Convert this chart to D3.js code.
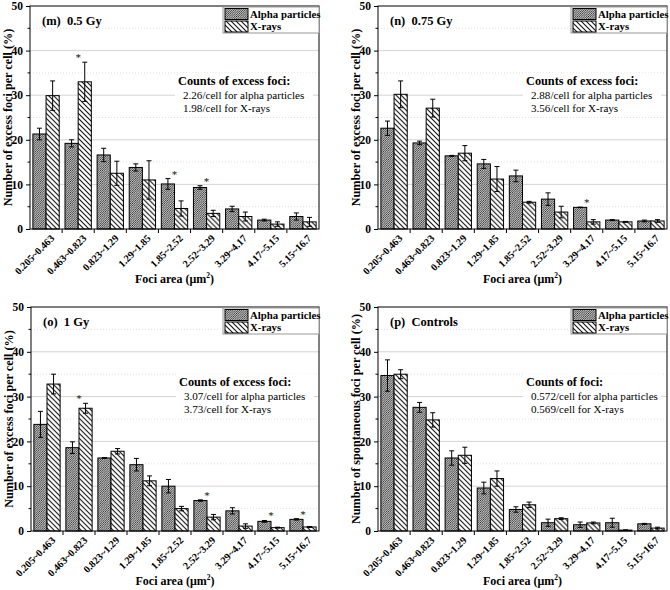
<!DOCTYPE html>
<html><head><meta charset="utf-8">
<script src="https://cdn.jsdelivr.net/npm/d3@7"></script>
<style>body{margin:0;background:#fff} svg{display:block} .star{font-family:'DejaVu Serif',serif;fill:#000;}</style>
</head><body><svg id="c" width="670" height="590"></svg>
<script>
const categories = ["0.205~0.463","0.463~0.823","0.823~1.29","1.29~1.85","1.85~2.52","2.52~3.29","3.29~4.17","4.17~5.15","5.15~16.7"];
const yTicks = [0,10,20,30,40,50];
const yMinorTicks = [5,15,25,35,45];
const seriesNames = ["Alpha particles","X-rays"];
const panelTitles = ["(m)  0.5 Gy","(n)  0.75 Gy","(o)  1 Gy","(p)  Controls"];
const yAxisTitles = ["Number of excess foci per cell (%)","Number of excess foci per cell (%)","Number of excess foci per cell (%)","Number of spontaneous foci per cell (%)"];
const xAxisTitle = "Foci area (μm";
const noteHeads = ["Counts of excess foci:","Counts of excess foci:","Counts of excess foci:","Counts of foci:"];
const noteAlpha = ["2.26/cell for alpha particles","2.88/cell for alpha particles","3.07/cell for alpha particles","0.572/cell for alpha particles"];
const noteXray = ["1.98/cell for X-rays","3.56/cell for X-rays","3.73/cell for X-rays","0.569/cell for X-rays"];

const alphaM = [21.3,19.2,16.6,13.8,10.1,9.3,4.5,2.0,2.8];
const alphaErrM = [1.3,0.8,1.5,0.8,1.2,0.4,0.6,0.2,0.8];
const xrayM = [29.9,33.0,12.5,11.0,4.6,3.5,2.8,1.1,1.6];
const xrayErrM = [3.3,4.4,2.7,4.3,1.7,0.7,1.0,0.5,1.0];
const starsM = ["0.463~0.823","1.85~2.52","2.52~3.29"];

const alphaN = [22.6,19.3,16.4,14.6,11.9,6.7,4.85,2.0,1.8];
const alphaErrN = [1.6,0.4,0.1,1.0,1.3,1.4,0.05,0.1,0.2];
const xrayN = [30.2,27.1,17.0,11.2,6.0,3.8,1.6,1.6,1.8];
const xrayErrN = [3.0,2.0,1.7,2.8,0.2,1.3,0.5,0.1,0.3];
const starsN = ["3.29~4.17"];

const alphaO = [23.8,18.6,16.3,14.8,10.0,6.8,4.5,2.15,2.6];
const alphaErrO = [2.9,1.3,0.1,1.4,1.5,0.15,0.7,0.2,0.15];
const xrayO = [32.8,27.4,17.8,11.2,5.0,3.1,1.1,0.75,0.9];
const xrayErrO = [2.2,1.1,0.6,1.1,0.5,0.6,0.5,0.1,0.1];
const starsO = ["0.463~0.823","2.52~3.29","4.17~5.15","5.15~16.7"];

const alphaP = [34.7,27.6,16.3,9.6,4.8,1.85,1.4,1.85,1.6];
const alphaErrP = [3.5,1.1,1.6,1.3,0.6,0.8,0.6,1.0,0.1];
const xrayP = [35.0,24.8,16.9,11.7,5.85,2.75,1.8,0.2,0.65];
const xrayErrP = [1.0,1.6,1.8,1.7,0.6,0.2,0.2,0.05,0.2];
const starsP = [];

const panels = [
  {alpha:alphaM, aErr:alphaErrM, xray:xrayM, xErr:xrayErrM, stars:starsM},
  {alpha:alphaN, aErr:alphaErrN, xray:xrayN, xErr:xrayErrN, stars:starsN},
  {alpha:alphaO, aErr:alphaErrO, xray:xrayO, xErr:xrayErrO, stars:starsO},
  {alpha:alphaP, aErr:alphaErrP, xray:xrayP, xErr:xrayErrP, stars:starsP}
];
// plot rectangles (layout)
const rects = [
  {x0:30, x1:319, y0:6, y1:229},
  {x0:378, x1:667, y0:6, y1:229},
  {x0:31, x1:319, y0:307, y1:531},
  {x0:378, x1:667, y0:307, y1:531}
];

const FONT = "'Liberation Serif','Times New Roman',serif";
const svg = d3.select("#c").style("font-family", FONT);
const defs = svg.append("defs");
const pa = defs.append("pattern").attr("id","hatchA").attr("patternUnits","userSpaceOnUse").attr("width",2.2).attr("height",2.2);
pa.append("rect").attr("width",2.2).attr("height",2.2).attr("fill","#fff");
pa.append("path").attr("d","M0,2.2L2.2,0M-1,1L1,-1M1.2,3.2L3.2,1.2").attr("stroke","#111").attr("stroke-width",0.75);
const px = defs.append("pattern").attr("id","hatchX").attr("patternUnits","userSpaceOnUse").attr("width",5).attr("height",5);
px.append("rect").attr("width",5).attr("height",5).attr("fill","#fff");
px.append("path").attr("d","M0,0L5,5M-1,4L1,6M4,-1L6,1").attr("stroke","#111").attr("stroke-width",1.1);
const fills = ["url(#hatchA)","url(#hatchX)"];

panels.forEach((p, i) => {
  const r = rects[i];
  const g = svg.append("g");
  const x = d3.scaleBand().domain(categories).range([r.x0, r.x1]).paddingInner(0.18).paddingOuter(0.09);
  const xs = d3.scaleBand().domain(seriesNames).range([0, x.bandwidth()]).padding(0);
  const y = d3.scaleLinear().domain([0,50]).range([r.y1, r.y0]);

  // grid
  g.selectAll(".gmin").data(yMinorTicks).join("line")
    .attr("x1", r.x0).attr("x2", r.x1).attr("y1", d=>y(d)).attr("y2", d=>y(d))
    .attr("stroke","#d8d8d8").attr("stroke-width",0.8).attr("stroke-dasharray","1,2");
  g.selectAll(".gmaj").data(yTicks.filter(d=>d>0 && d<50)).join("line")
    .attr("x1", r.x0).attr("x2", r.x1).attr("y1", d=>y(d)).attr("y2", d=>y(d))
    .attr("stroke","#cfcfcf").attr("stroke-width",0.9);

  // annotation with white background
  const ax = r.x0 + 148;
  const noteY = r.y0 + 79;
  g.append("rect").attr("x", ax-3).attr("y", noteY-12).attr("width", 138).attr("height", 44).attr("fill","#fff");
  g.append("text").attr("x", ax).attr("y", noteY).attr("font-size",12.3).attr("font-weight","bold").text(noteHeads[i]);
  g.append("text").attr("x", ax+5).attr("y", noteY+13.5).attr("font-size",11.1).text(noteAlpha[i]);
  g.append("text").attr("x", ax+5).attr("y", noteY+27).attr("font-size",11.1).text(noteXray[i]);

  // bars
  const rows = categories.map((c, k) => ({c, vals:[
    {s:seriesNames[0], v:p.alpha[k], e:p.aErr[k], fill:fills[0]},
    {s:seriesNames[1], v:p.xray[k], e:p.xErr[k], fill:fills[1]}]}));
  const grp = g.selectAll(".grp").data(rows).join("g").attr("transform", d=>`translate(${x(d.c)},0)`);
  grp.selectAll("rect").data(d=>d.vals).join("rect")
    .attr("x", d=>xs(d.s)).attr("width", xs.bandwidth())
    .attr("y", d=>y(d.v)).attr("height", d=>y(0)-y(d.v))
    .attr("fill", d=>d.fill).attr("stroke","#000").attr("stroke-width",1);
  // error bars
  const eb = grp.selectAll(".eb").data(d=>d.vals).join("g");
  eb.append("line").attr("x1", d=>xs(d.s)+xs.bandwidth()/2).attr("x2", d=>xs(d.s)+xs.bandwidth()/2)
    .attr("y1", d=>y(d.v-d.e)).attr("y2", d=>y(d.v+d.e)).attr("stroke","#000").attr("stroke-width",1);
  eb.append("line").attr("x1", d=>xs(d.s)+xs.bandwidth()/2-2.5).attr("x2", d=>xs(d.s)+xs.bandwidth()/2+2.5)
    .attr("y1", d=>y(d.v+d.e)).attr("y2", d=>y(d.v+d.e)).attr("stroke","#000").attr("stroke-width",1);
  eb.append("line").attr("x1", d=>xs(d.s)+xs.bandwidth()/2-2.5).attr("x2", d=>xs(d.s)+xs.bandwidth()/2+2.5)
    .attr("y1", d=>y(d.v-d.e)).attr("y2", d=>y(d.v-d.e)).attr("stroke","#000").attr("stroke-width",1);
  // stars
  grp.filter(d=>p.stars.includes(d.c)).append("text").attr("class","star")
    .attr("x", x.bandwidth()/2).attr("y", d=>y(d3.max(d.vals, v=>v.v+v.e)) - 1)
    .attr("text-anchor","middle").attr("font-size",10).text("*");

  // frame
  g.append("rect").attr("x", r.x0).attr("y", r.y0).attr("width", r.x1-r.x0).attr("height", r.y1-r.y0)
    .attr("fill","none").attr("stroke","#000").attr("stroke-width",1);

  // y axis
  const yAxis = d3.axisLeft(y).tickValues(yTicks).tickSize(4).tickPadding(3).tickFormat(d3.format("d"));
  const ya = g.append("g").attr("transform",`translate(${r.x0},0)`).call(yAxis);
  ya.select(".domain").remove();
  ya.selectAll("text").attr("font-size",11.5).attr("font-weight","bold").attr("font-family",FONT).attr("fill","#000");
  g.selectAll(".ymin").data(yMinorTicks).join("line")
    .attr("x1", r.x0-2.5).attr("x2", r.x0).attr("y1", d=>y(d)).attr("y2", d=>y(d)).attr("stroke","#000");

  // x axis boundary ticks
  const bounds = categories.slice(1).map(c => x(c) - x.step()*x.paddingInner()/2);
  g.selectAll(".xt").data(bounds).join("line")
    .attr("x1", d=>d).attr("x2", d=>d).attr("y1", r.y1).attr("y2", r.y1+4).attr("stroke","#000");
  // x tick labels
  g.selectAll(".xl").data(categories).join("text")
    .attr("transform", d=>`translate(${x(d)+x.bandwidth()/2+9},${r.y1+10}) rotate(-45)`)
    .attr("text-anchor","end").attr("font-size",10.2).attr("font-weight","bold").text(d=>d);

  // x title
  const xt = g.append("text").attr("x", (r.x0+r.x1)/2).attr("y", r.y1+54).attr("text-anchor","middle")
    .attr("font-size",12).attr("font-weight","bold");
  xt.append("tspan").text(xAxisTitle);
  xt.append("tspan").attr("font-size",7.5).attr("dy",-5).text("2");
  xt.append("tspan").attr("dy",5).text(")");

  // y title
  g.append("text").attr("transform",`translate(${r.x0-18},${(r.y0+r.y1)/2}) rotate(-90)`)
    .attr("text-anchor","middle").attr("font-size",12.2).attr("font-weight","bold").text(yAxisTitles[i]);

  // panel title
  g.append("text").attr("x", r.x0+12).attr("y", r.y0+19).attr("font-size",12.5).attr("font-weight","bold")
    .attr("xml:space","preserve").style("white-space","pre").text(panelTitles[i]);

  // legend
  const lx = r.x1 - 96, ly = r.y0 + 1;
  g.append("rect").attr("x", lx).attr("y", ly).attr("width", 96).attr("height", 26)
    .attr("fill","#fff").attr("stroke","#999").attr("stroke-width",1);
  seriesNames.forEach((s, k) => {
    g.append("rect").attr("x", lx+2).attr("y", ly+1.5+k*12.5).attr("width",23).attr("height",11)
      .attr("fill", fills[k]).attr("stroke","#000").attr("stroke-width",1);
    g.append("text").attr("x", lx+27).attr("y", ly+10.5+k*12.5).attr("font-size",10.8).attr("font-weight","bold").text(s);
  });
});
</script>
</body></html>
